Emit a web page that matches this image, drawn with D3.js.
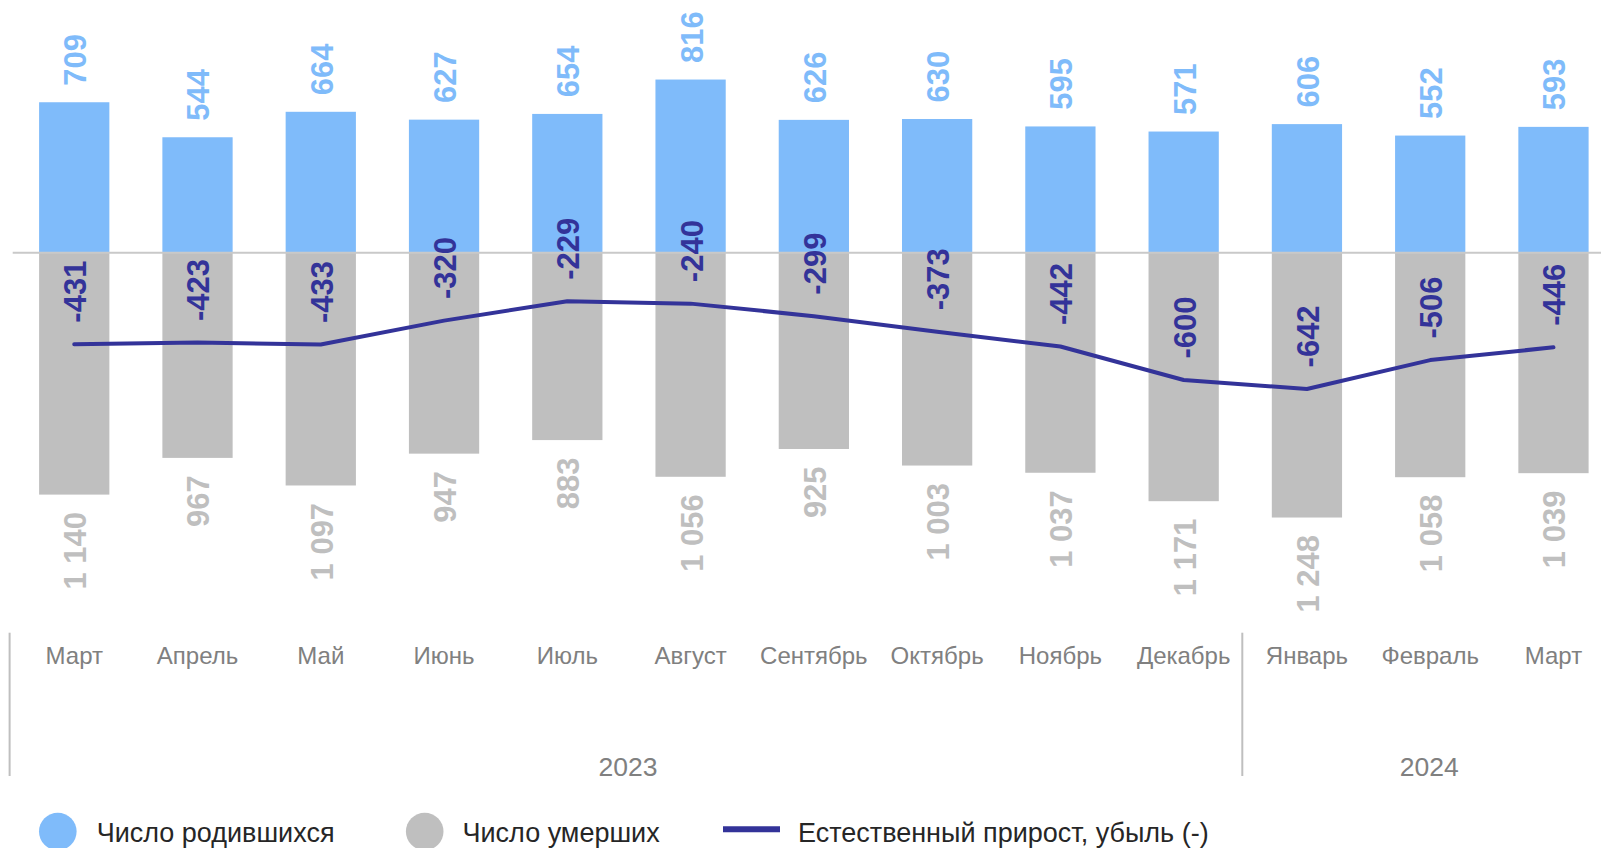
<!DOCTYPE html>
<meta charset="utf-8">
<style>
    body { margin: 0; background: #fff; }
    svg { display: block; font-family: "Liberation Sans", Arial, sans-serif; }
</style>
<body>
<script src="https://cdn.jsdelivr.net/npm/d3@7"></script>
<script>

    var width = 1601,
        height = 848;

    // данные
    var months = ["Март", "Апрель", "Май", "Июнь", "Июль", "Август", "Сентябрь",
                  "Октябрь", "Ноябрь", "Декабрь", "Январь", "Февраль", "Март"];
    var births = [709, 544, 664, 627, 654, 816, 626, 630, 595, 571, 606, 552, 593];
    var deaths = [1140, 967, 1097, 947, 883, 1056, 925, 1003, 1037, 1171, 1248, 1058, 1039];
    var natural = [-431, -423, -433, -320, -229, -240, -299, -373, -442, -600, -642, -506, -446];
    var years = [{label: "2023", from: 0, to: 10}, {label: "2024", from: 10, to: 13}];

    var blue = "#7fbbfa",
        grey = "#bfbfbf",
        navy = "#333399";

    var svg = d3.select("body").append("svg")
            .attr("width", width)
            .attr("height", height);

    var x0 = 12.6, step = 123.27;
    var x = d3.scaleBand()
            .domain(d3.range(months.length))
            .range([x0, x0 + step * months.length])
            .paddingInner(0.43)
            .paddingOuter(0.215);

    var zeroY = 252.7, k = 0.2122;
    var y = d3.scaleLinear()
            .domain([-1300, 900])
            .range([zeroY + 1300 * k, zeroY - 900 * k]);

    var fmt = d3.formatLocale({decimal: ",", thousands: " ", grouping: [3], currency: ["", ""]}).format(",d");

    var cx = function(i) { return x(i) + x.bandwidth() / 2; };

    // столбики
    svg.append("g").selectAll("rect").data(births).enter().append("rect")
            .attr("x", function(d, i) { return x(i); })
            .attr("y", function(d) { return y(d); })
            .attr("width", x.bandwidth())
            .attr("height", function(d) { return y(0) - y(d); })
            .attr("fill", blue);

    svg.append("g").selectAll("rect").data(deaths).enter().append("rect")
            .attr("x", function(d, i) { return x(i); })
            .attr("y", y(0))
            .attr("width", x.bandwidth())
            .attr("height", function(d) { return y(-d) - y(0); })
            .attr("fill", grey);

    svg.append("line")
            .attr("x1", 12.7).attr("x2", width)
            .attr("y1", y(0)).attr("y2", y(0))
            .attr("stroke", "#c9c9c9").attr("stroke-width", 2);

    // линия естественного прироста
    var line = d3.line()
            .x(function(d, i) { return cx(i); })
            .y(function(d) { return y(d); });

    svg.append("path")
            .datum(natural)
            .attr("d", line)
            .attr("fill", "none")
            .attr("stroke", navy)
            .attr("stroke-width", 4)
            .attr("stroke-linecap", "round")
            .attr("stroke-linejoin", "round");

    // подписи значений
    function vlabel(data, color, yPos, anchor, text) {
        svg.append("g").selectAll("text").data(data).enter().append("text")
                .attr("transform", function(d, i) { return "translate(" + (cx(i) + 0.8) + "," + yPos(d) + ") rotate(-90)"; })
                .attr("dy", "0.36em")
                .attr("text-anchor", anchor)
                .attr("fill", color)
                .attr("font-size", 31)
                .attr("font-weight", "bold")
                .text(text);
    }
    vlabel(births, blue, function(d) { return y(d) - 16.6; }, "start", function(d) { return d; });
    vlabel(deaths, grey, function(d) { return y(-d) + 17.4; }, "end", fmt);
    vlabel(natural, navy, function(d) { return y(d) - 21.5; }, "start", function(d) { return d; });

    // ось категорий
    svg.append("g").selectAll("text").data(months).enter().append("text")
            .attr("x", function(d, i) { return cx(i); })
            .attr("y", 664)
            .attr("text-anchor", "middle")
            .attr("fill", "#808080")
            .attr("font-size", 24)
            .text(function(d) { return d; });

    var edge = function(i) { return x0 + i * step - 3; };

    svg.append("g").selectAll("line").data([0, 10]).enter().append("line")
            .attr("x1", edge).attr("x2", edge)
            .attr("y1", 632.7).attr("y2", 776)
            .attr("stroke", grey).attr("stroke-width", 2);

    svg.append("g").selectAll("text").data(years).enter().append("text")
            .attr("x", function(d) { return (edge(d.from) + edge(d.to)) / 2 + 2; })
            .attr("y", 776)
            .attr("text-anchor", "middle")
            .attr("fill", "#808080")
            .attr("font-size", 26.5)
            .text(function(d) { return d.label; });

    // легенда
    var legend = svg.append("g");
    legend.append("circle").attr("cx", 57.8).attr("cy", 831.5).attr("r", 18.8).attr("fill", blue);
    legend.append("text").attr("x", 96.7).attr("y", 842).attr("font-size", 27).attr("fill", "#262626").text("Число родившихся");
    legend.append("circle").attr("cx", 424.7).attr("cy", 831.5).attr("r", 18.8).attr("fill", grey);
    legend.append("text").attr("x", 462.5).attr("y", 842).attr("font-size", 27).attr("fill", "#262626").text("Число умерших");
    legend.append("line").attr("x1", 723).attr("x2", 780).attr("y1", 829.3).attr("y2", 829.3)
            .attr("stroke", navy).attr("stroke-width", 6);
    legend.append("text").attr("x", 798).attr("y", 842).attr("font-size", 27).attr("fill", "#262626").text("Естественный прирост, убыль (-)");

</script>
